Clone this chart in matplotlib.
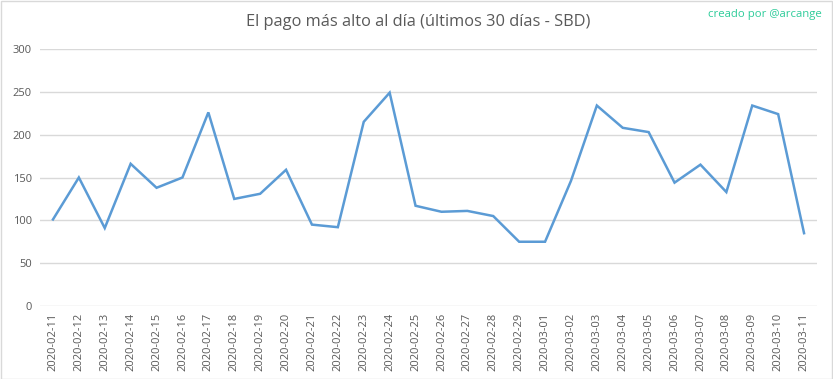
import matplotlib.pyplot as plt
from matplotlib.patches import Rectangle

plt.rcParams['font.family'] = ['Open Sans', 'DejaVu Sans']

# fechas y pago más alto del día (SBD)
fechas = ['2020-02-11', '2020-02-12', '2020-02-13', '2020-02-14', '2020-02-15',
          '2020-02-16', '2020-02-17', '2020-02-18', '2020-02-19', '2020-02-20',
          '2020-02-21', '2020-02-22', '2020-02-23', '2020-02-24', '2020-02-25',
          '2020-02-26', '2020-02-27', '2020-02-28', '2020-02-29', '2020-03-01',
          '2020-03-02', '2020-03-03', '2020-03-04', '2020-03-05', '2020-03-06',
          '2020-03-07', '2020-03-08', '2020-03-09', '2020-03-10', '2020-03-11']
pagos = [101, 150, 91, 166, 138, 150, 226, 125, 131, 159,
         95, 92, 215, 249, 117, 110, 111, 105, 75, 75,
         146, 234, 208, 203, 144, 165, 133, 234, 224, 85]
y_ticks = [0, 50, 100, 150, 200, 250, 300]

fig = plt.figure(figsize=(8.33, 3.79), dpi=100)
ax = fig.add_axes([40 / 833, 1 - 306 / 379, 777 / 833, 257 / 379])

x = range(len(fechas))
ax.plot(x, pagos, color='#5B9BD5', linewidth=1.8, solid_joinstyle='miter')

ax.set_xlim(-0.5, len(fechas) - 0.5)
ax.set_ylim(0, 300)
ax.set_yticks(y_ticks)
ax.set_xticks(list(x))
ax.set_xticklabels(fechas, rotation=90)
ax.tick_params(axis='both', length=0, labelsize=8, labelcolor='#595959')
ax.tick_params(axis='x', pad=5)
ax.tick_params(axis='y', pad=6)
ax.grid(axis='y', color='#D9D9D9', linewidth=1)
ax.set_axisbelow(True)
for s in ax.spines.values():
    s.set_visible(False)

fig.text(0.5 + 2 / 833, 1 - 22 / 379, 'El pago más alto al día (últimos 30 días - SBD)',
         ha='center', va='center', fontsize=11.8, color='#595959')
fig.text(1 - 11 / 833, 1 - 15 / 379, 'creado por @arcange',
         ha='right', va='center', fontsize=8.2, color='#2ECC9A')

# borde del gráfico
fig.patches.append(Rectangle((0.5 / 833, 0.5 / 379), 1 - 1.5 / 833, 1 - 1.5 / 379,
                             transform=fig.transFigure, fill=False,
                             edgecolor='#D9D9D9', linewidth=1))

fig.savefig('out.png', dpi=100)
